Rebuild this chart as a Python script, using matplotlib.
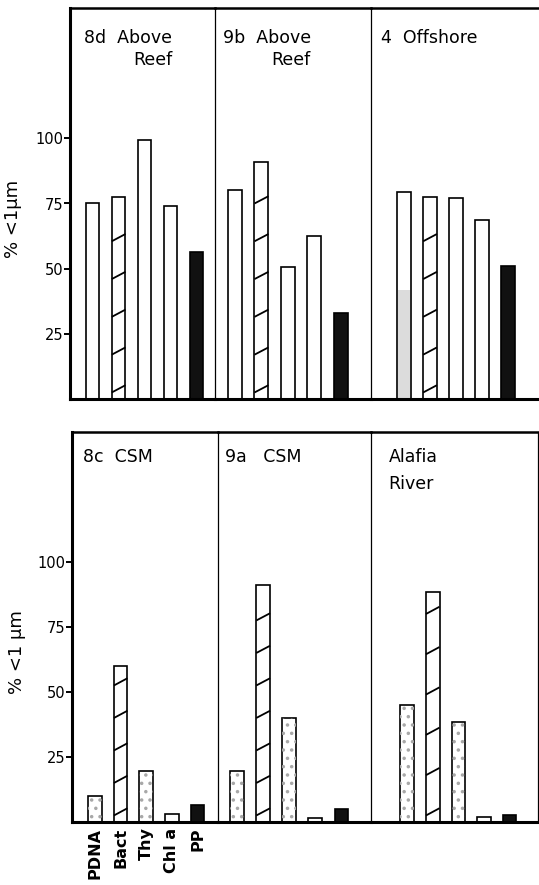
import matplotlib.pyplot as plt
import numpy as np

# ── data ─────────────────────────────────────────────────────────────────────

CATEGORIES = ["PDNA", "Bact", "Thy", "Chl a", "PP"]

TOP_TITLES = ["8d  Above\nReef", "9b  Above\nReef", "4  Offshore"]
TOP_VALUES = [
    [75, 77.5, 99.5, 74, 56.5],
    [80, 91, 50.5, 62.5, 33],
    [79.5, 77.5, 77, 68.5, 51],
]
OFFSHORE_PDNA_SHADE = 42

BOTTOM_TITLES = ["8c  CSM", "9a   CSM", "Alafia\nRiver"]
BOTTOM_VALUES = [
    [10, 60, 19.5, 3, 6.5],
    [19.5, 91, 40, 1.5, 5],
    [45, 88.5, 38.5, 2, 2.7],
]

Y_TICKS = [25, 50, 75, 100]

# ── layout (pixels of a 539 x 885 canvas) ────────────────────────────────────

W, H = 539, 885
TOP_ROW = dict(edges=[70, 215, 371, 539], top=8, bottom=399,
               xlims=[(-0.87, 4.71), (-0.76, 5.15), (-1.27, 5.19)],
               stripe=[14.5, 14.5, 14.5], title_x=[0.10, 0.05, 0.06],
               title_y=0.947, spacing=1.3,
               ylabel_xy=(-0.33, 0.46), ylabel="% <1µm")
BOT_ROW = dict(edges=[72, 218, 371, 538], top=432, bottom=822,
               xlims=[(-0.9, 4.8), (-0.73, 5.13), (-1.41, 5.11)],
               stripe=[12.5, 12.5, 15.5], title_x=[0.075, 0.046, 0.105],
               title_y=0.96, spacing=1.65,
               ylabel_xy=(-0.315, 0.435), ylabel="% <1 µm")

BAR_W = 0.53
EDGE_LW = 1.2


def _add_stripes(ax, x, h, step):
    """Sparse rising strokes inside a 'Bact' bar."""
    y = 2.5
    while y + 3 < h:
        ax.plot([x - BAR_W / 2, x + BAR_W / 2], [y, y + 2.8],
                color="black", lw=1.3, solid_capstyle="butt", zorder=4)
        y += step


def _draw_row(fig, row, titles, values, dotted, shade=None, xlabels=False):
    axes = []
    for i, (title, vals) in enumerate(zip(titles, values)):
        x0, x1 = row["edges"][i], row["edges"][i + 1]
        rect = [x0 / W, 1 - row["bottom"] / H, (x1 - x0) / W,
                (row["bottom"] - row["top"]) / H]
        ax = fig.add_axes(rect)
        x = np.arange(len(vals))

        ax.bar(x, vals, BAR_W, color=["white"] * 4 + ["#111111"],
               edgecolor="black", linewidth=EDGE_LW, zorder=2)
        if shade is not None and i == 2:
            ax.bar(x[0], shade, BAR_W * 0.85, color="#dcdcdc", lw=0, zorder=2.5)
        for k in dotted:
            ax.bar(x[k], vals[k], BAR_W, facecolor="none", edgecolor="#a8a8a8",
                   linewidth=0, hatch="..", zorder=3)
        _add_stripes(ax, x[1], vals[1], row["stripe"][i])

        ax.set_xlim(*row["xlims"][i])
        ax.set_ylim(0, 150)
        ax.text(row["title_x"][i], row["title_y"], title, transform=ax.transAxes,
                ha="left", va="top", fontsize=12.5, linespacing=row["spacing"],
                multialignment="right" if "Reef" in title else "left")

        for side in ["left", "right", "top", "bottom"]:
            ax.spines[side].set_color("black")
        ax.spines["bottom"].set_linewidth(2.2)
        ax.spines["top"].set_linewidth(1.8)
        ax.spines["left"].set_linewidth(2.2 if i == 0 else 0.9)
        ax.spines["right"].set_linewidth(0.9)
        ax.spines["right"].set_visible(i == 2 and row is BOT_ROW)
        ax.set_facecolor("none")

        if i == 0:
            ax.set_yticks(Y_TICKS)
            ax.tick_params(axis="y", direction="out", length=4, width=1.4,
                           labelsize=10.5, pad=1)
            ax.set_ylabel(row["ylabel"], fontsize=13)
            ax.yaxis.set_label_coords(*row["ylabel_xy"])
        else:
            ax.set_yticks([])
        if i == 0 and xlabels:
            ax.set_xticks(x)
            ax.set_xticklabels(CATEGORIES, rotation=90, fontsize=11.5,
                               fontweight="bold", va="top")
            ax.tick_params(axis="x", length=0, pad=4)
        else:
            ax.set_xticks([])
        axes.append(ax)
    return axes


def main():
    plt.rcParams.update({"font.family": "DejaVu Sans", "hatch.linewidth": 1.3})
    fig = plt.figure(figsize=(W / 100, H / 100), dpi=100)

    _draw_row(fig, TOP_ROW, TOP_TITLES, TOP_VALUES, dotted=[],
              shade=OFFSHORE_PDNA_SHADE)
    _draw_row(fig, BOT_ROW, BOTTOM_TITLES, BOTTOM_VALUES, dotted=[0, 2],
              xlabels=True)

    fig.savefig("out.png", dpi=100, facecolor="white")
    plt.close(fig)


if __name__ == "__main__":
    main()
